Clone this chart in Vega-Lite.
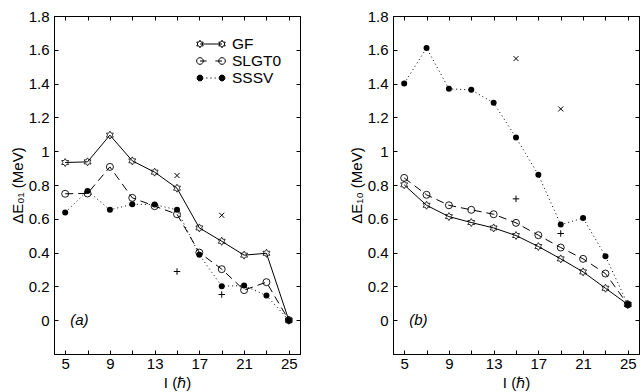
{
  "$schema": "https://vega.github.io/schema/vega-lite/v6.json",
  "padding": {"left": 9, "top": 8, "right": 5, "bottom": 5},
  "spacing": 47,
  "config": {
    "font": "Liberation Sans",
    "view": {"stroke": "black", "strokeWidth": 1},
    "axis": {"grid": false, "domainColor": "black", "tickColor": "black", "labelColor": "black", "titleColor": "black", "labelFontSize": 15, "titleFontSize": 15, "titleFontWeight": "normal", "labelFont": "Liberation Sans", "titleFont": "Liberation Sans", "domainWidth": 1, "tickWidth": 1, "labelFlush": false, "labelOverlap": false},
    "legend": {"title": null, "labelFontSize": 15.5, "labelFont": "Liberation Sans", "labelColor": "black", "symbolSize": 841, "symbolStrokeWidth": 1, "symbolStrokeColor": "black", "labelOffset": 6, "rowPadding": 0, "clipHeight": 17, "padding": 0, "symbolOpacity": 1}
  },
  "datasets": {
    "main": [
      {"p": "a", "s": "GF", "I": 5, "v": 0.933}, {"p": "a", "s": "GF", "I": 7, "v": 0.937}, {"p": "a", "s": "GF", "I": 9, "v": 1.095}, {"p": "a", "s": "GF", "I": 11, "v": 0.943}, {"p": "a", "s": "GF", "I": 13, "v": 0.876}, {"p": "a", "s": "GF", "I": 15, "v": 0.781}, {"p": "a", "s": "GF", "I": 17, "v": 0.546}, {"p": "a", "s": "GF", "I": 19, "v": 0.467}, {"p": "a", "s": "GF", "I": 21, "v": 0.385}, {"p": "a", "s": "GF", "I": 23, "v": 0.396}, {"p": "a", "s": "GF", "I": 25, "v": 0},
      {"p": "a", "s": "SLGT0", "I": 5, "v": 0.748}, {"p": "a", "s": "SLGT0", "I": 7, "v": 0.75}, {"p": "a", "s": "SLGT0", "I": 9, "v": 0.907}, {"p": "a", "s": "SLGT0", "I": 11, "v": 0.724}, {"p": "a", "s": "SLGT0", "I": 13, "v": 0.675}, {"p": "a", "s": "SLGT0", "I": 15, "v": 0.627}, {"p": "a", "s": "SLGT0", "I": 17, "v": 0.4}, {"p": "a", "s": "SLGT0", "I": 19, "v": 0.302}, {"p": "a", "s": "SLGT0", "I": 21, "v": 0.178}, {"p": "a", "s": "SLGT0", "I": 23, "v": 0.225}, {"p": "a", "s": "SLGT0", "I": 25, "v": 0},
      {"p": "a", "s": "SSSV", "I": 5, "v": 0.637}, {"p": "a", "s": "SSSV", "I": 7, "v": 0.765}, {"p": "a", "s": "SSSV", "I": 9, "v": 0.653}, {"p": "a", "s": "SSSV", "I": 11, "v": 0.686}, {"p": "a", "s": "SSSV", "I": 13, "v": 0.684}, {"p": "a", "s": "SSSV", "I": 15, "v": 0.653}, {"p": "a", "s": "SSSV", "I": 17, "v": 0.387}, {"p": "a", "s": "SSSV", "I": 19, "v": 0.201}, {"p": "a", "s": "SSSV", "I": 21, "v": 0.205}, {"p": "a", "s": "SSSV", "I": 23, "v": 0.146}, {"p": "a", "s": "SSSV", "I": 25, "v": 0},
      {"p": "a", "s": "X", "I": 15, "v": 0.856}, {"p": "a", "s": "X", "I": 19, "v": 0.621},
      {"p": "a", "s": "P", "I": 15, "v": 0.288}, {"p": "a", "s": "P", "I": 19, "v": 0.152},
      {"p": "b", "s": "GF", "I": 5, "v": 0.801}, {"p": "b", "s": "GF", "I": 7, "v": 0.68}, {"p": "b", "s": "GF", "I": 9, "v": 0.613}, {"p": "b", "s": "GF", "I": 11, "v": 0.578}, {"p": "b", "s": "GF", "I": 13, "v": 0.546}, {"p": "b", "s": "GF", "I": 15, "v": 0.501}, {"p": "b", "s": "GF", "I": 17, "v": 0.436}, {"p": "b", "s": "GF", "I": 19, "v": 0.363}, {"p": "b", "s": "GF", "I": 21, "v": 0.286}, {"p": "b", "s": "GF", "I": 23, "v": 0.189}, {"p": "b", "s": "GF", "I": 25, "v": 0.093},
      {"p": "b", "s": "SLGT0", "I": 5, "v": 0.842}, {"p": "b", "s": "SLGT0", "I": 7, "v": 0.742}, {"p": "b", "s": "SLGT0", "I": 9, "v": 0.68}, {"p": "b", "s": "SLGT0", "I": 11, "v": 0.653}, {"p": "b", "s": "SLGT0", "I": 13, "v": 0.627}, {"p": "b", "s": "SLGT0", "I": 15, "v": 0.576}, {"p": "b", "s": "SLGT0", "I": 17, "v": 0.503}, {"p": "b", "s": "SLGT0", "I": 19, "v": 0.43}, {"p": "b", "s": "SLGT0", "I": 21, "v": 0.363}, {"p": "b", "s": "SLGT0", "I": 23, "v": 0.276}, {"p": "b", "s": "SLGT0", "I": 25, "v": 0.093},
      {"p": "b", "s": "SSSV", "I": 5, "v": 1.4}, {"p": "b", "s": "SSSV", "I": 7, "v": 1.611}, {"p": "b", "s": "SSSV", "I": 9, "v": 1.369}, {"p": "b", "s": "SSSV", "I": 11, "v": 1.363}, {"p": "b", "s": "SSSV", "I": 13, "v": 1.286}, {"p": "b", "s": "SSSV", "I": 15, "v": 1.081}, {"p": "b", "s": "SSSV", "I": 17, "v": 0.86}, {"p": "b", "s": "SSSV", "I": 19, "v": 0.566}, {"p": "b", "s": "SSSV", "I": 21, "v": 0.604}, {"p": "b", "s": "SSSV", "I": 23, "v": 0.379}, {"p": "b", "s": "SSSV", "I": 25, "v": 0.093},
      {"p": "b", "s": "X", "I": 15, "v": 1.548}, {"p": "b", "s": "X", "I": 19, "v": 1.25},
      {"p": "b", "s": "P", "I": 15, "v": 0.718}, {"p": "b", "s": "P", "I": 19, "v": 0.513}
    ]
  },
  "resolve": {"scale": {"shape": "independent", "fill": "independent"}, "legend": {"shape": "independent", "fill": "independent"}},
  "hconcat": [
    {
      "width": 246, "height": 338,
      "data": {"name": "main"},
      "resolve": {"axis": {"x": "independent", "y": "independent"}},
      "layer": [
        {
          "transform": [{"filter": "datum.p=='a' && datum.s=='GF'"}],
          "mark": {"type": "line", "color": "black", "strokeWidth": 1},
          "encoding": {
            "x": {"field": "I", "type": "quantitative", "scale": {"domain": [4, 26], "nice": false, "zero": false}, "axis": {"orient": "bottom", "values": [5, 7, 9, 11, 13, 15, 17, 19, 21, 23, 25], "labelExpr": "datum.value % 4 == 1 ? datum.label : ''", "title": "I (ℏ)", "tickSize": -4, "labelPadding": 6.5, "titlePadding": 3.5}},
            "y": {"field": "v", "type": "quantitative", "scale": {"domain": [-0.2, 1.8], "nice": false, "zero": false}, "axis": {"orient": "left", "values": [0, 0.2, 0.4, 0.6, 0.8, 1, 1.2, 1.4, 1.6, 1.8], "format": "~g", "title": "ΔE₀₁ (MeV)", "tickSize": -4, "labelPadding": 9, "titlePadding": 3}}
          }
        },
        {
          "transform": [{"filter": "datum.p=='a' && datum.s=='SLGT0'"}],
          "mark": {"type": "line", "color": "black", "strokeWidth": 1, "strokeDash": [8, 5]},
          "encoding": {
            "x": {"field": "I", "type": "quantitative", "scale": {"domain": [4, 26], "nice": false, "zero": false}, "axis": {"orient": "top", "values": [5, 7, 9, 11, 13, 15, 17, 19, 21, 23, 25], "labels": false, "title": null, "tickSize": -4}},
            "y": {"field": "v", "type": "quantitative", "scale": {"domain": [-0.2, 1.8], "nice": false, "zero": false}, "axis": {"orient": "right", "values": [0, 0.2, 0.4, 0.6, 0.8, 1, 1.2, 1.4, 1.6, 1.8], "labels": false, "title": null, "tickSize": -4}}
          }
        },
        {
          "transform": [{"filter": "datum.p=='a' && datum.s=='SSSV'"}],
          "mark": {"type": "line", "color": "black", "strokeWidth": 1, "strokeDash": [1, 3]},
          "encoding": {
            "x": {"field": "I", "type": "quantitative", "scale": {"domain": [4, 26], "nice": false, "zero": false}, "axis": null},
            "y": {"field": "v", "type": "quantitative", "scale": {"domain": [-0.2, 1.8], "nice": false, "zero": false}, "axis": null}
          }
        },
        {
          "transform": [{"filter": "datum.p=='a' && datum.s=='GF'"}],
          "mark": {"type": "point", "shape": "M0,-1L0.289,-0.5L0.866,-0.5L0.577,0L0.866,0.5L0.289,0.5L0,1L-0.289,0.5L-0.866,0.5L-0.577,0L-0.866,-0.5L-0.289,-0.5Z", "size": 64, "filled": false, "stroke": "black", "strokeWidth": 0.8, "opacity": 1},
          "encoding": {
            "x": {"field": "I", "type": "quantitative", "scale": {"domain": [4, 26], "nice": false, "zero": false}, "axis": null},
            "y": {"field": "v", "type": "quantitative", "scale": {"domain": [-0.2, 1.8], "nice": false, "zero": false}, "axis": null}
          }
        },
        {
          "transform": [{"filter": "datum.p=='a' && datum.s=='SLGT0'"}],
          "mark": {"type": "point", "shape": "circle", "size": 49, "filled": false, "stroke": "black", "strokeWidth": 0.9, "opacity": 1},
          "encoding": {
            "x": {"field": "I", "type": "quantitative", "scale": {"domain": [4, 26], "nice": false, "zero": false}, "axis": null},
            "y": {"field": "v", "type": "quantitative", "scale": {"domain": [-0.2, 1.8], "nice": false, "zero": false}, "axis": null}
          }
        },
        {
          "transform": [{"filter": "datum.p=='a' && datum.s=='SSSV'"}],
          "mark": {"type": "point", "shape": "circle", "size": 36, "filled": true, "fill": "black", "opacity": 1},
          "encoding": {
            "x": {"field": "I", "type": "quantitative", "scale": {"domain": [4, 26], "nice": false, "zero": false}, "axis": null},
            "y": {"field": "v", "type": "quantitative", "scale": {"domain": [-0.2, 1.8], "nice": false, "zero": false}, "axis": null}
          }
        },
        {
          "transform": [{"filter": "datum.p=='a' && datum.s=='X'"}],
          "mark": {"type": "point", "shape": "M-1,-1L1,1M-1,1L1,-1", "size": 25, "filled": false, "stroke": "black", "strokeWidth": 1, "opacity": 1},
          "encoding": {
            "x": {"field": "I", "type": "quantitative", "scale": {"domain": [4, 26], "nice": false, "zero": false}, "axis": null},
            "y": {"field": "v", "type": "quantitative", "scale": {"domain": [-0.2, 1.8], "nice": false, "zero": false}, "axis": null}
          }
        },
        {
          "transform": [{"filter": "datum.p=='a' && datum.s=='P'"}],
          "mark": {"type": "point", "shape": "M-1,0L1,0M0,-1L0,1", "size": 42, "filled": false, "stroke": "black", "strokeWidth": 1, "opacity": 1},
          "encoding": {
            "x": {"field": "I", "type": "quantitative", "scale": {"domain": [4, 26], "nice": false, "zero": false}, "axis": null},
            "y": {"field": "v", "type": "quantitative", "scale": {"domain": [-0.2, 1.8], "nice": false, "zero": false}, "axis": null}
          }
        },
        {
          "data": {"values": [{"label": "(a)"}]},
          "mark": {"type": "text", "align": "left", "baseline": "middle", "fontSize": 15, "fontStyle": "italic", "font": "Liberation Sans", "color": "black"},
          "encoding": {
            "x": {"datum": 5.45, "type": "quantitative", "axis": null},
            "y": {"datum": 0, "type": "quantitative", "axis": null},
            "text": {"field": "label"}
          }
        },
        {
          "data": {"values": [{"series": "GF"}, {"series": "SLGT0"}, {"series": "SSSV"}]},
          "transform": [{"filter": "false"}],
          "mark": {"type": "point", "filled": true, "stroke": "black", "strokeWidth": 1, "opacity": 1},
          "encoding": {
            "shape": {"field": "series", "type": "nominal", "scale": {"domain": ["GF", "SLGT0", "SSSV"], "range": [
              "M-0.76,0L0.76,0M-0.76,-0.26L-0.685,-0.13L-0.535,-0.13L-0.61,0L-0.535,0.13L-0.685,0.13L-0.76,0.26L-0.835,0.13L-0.985,0.13L-0.91,0L-0.985,-0.13L-0.835,-0.13ZM0.76,-0.26L0.835,-0.13L0.985,-0.13L0.91,0L0.985,0.13L0.835,0.13L0.76,0.26L0.685,0.13L0.535,0.13L0.61,0L0.535,-0.13L0.685,-0.13Z",
              "M-0.53,0A0.23,0.23,0,1,1,-0.99,0A0.23,0.23,0,1,1,-0.53,0ZM0.99,0A0.23,0.23,0,1,1,0.53,0A0.23,0.23,0,1,1,0.99,0ZM-0.76,0L-0.3,0M0.3,0L0.76,0",
              "M-0.56,0A0.2,0.2,0,1,1,-0.96,0A0.2,0.2,0,1,1,-0.56,0ZM0.96,0A0.2,0.2,0,1,1,0.56,0A0.2,0.2,0,1,1,0.96,0ZM-0.33,0L-0.25,0M-0.04,0L0.04,0M0.25,0L0.33,0"
            ]}, "legend": {"orient": "none", "legendX": 142, "legendY": 19.5, "encode": {"symbols": {"update": {"stroke": {"value": "black"}, "strokeWidth": {"value": 1}, "opacity": {"value": 1}}}}}},
            "fill": {"field": "series", "type": "nominal", "scale": {"domain": ["GF", "SLGT0", "SSSV"], "range": ["transparent", "transparent", "black"]}, "legend": {"orient": "none", "legendX": 142, "legendY": 19.5, "encode": {"symbols": {"update": {"stroke": {"value": "black"}, "strokeWidth": {"value": 1}, "opacity": {"value": 1}}}}}}
          }
        }
      ]
    },
    {
      "width": 246, "height": 338,
      "data": {"name": "main"},
      "resolve": {"axis": {"x": "independent", "y": "independent"}},
      "layer": [
        {
          "transform": [{"filter": "datum.p=='b' && datum.s=='GF'"}],
          "mark": {"type": "line", "color": "black", "strokeWidth": 1},
          "encoding": {
            "x": {"field": "I", "type": "quantitative", "scale": {"domain": [4, 26], "nice": false, "zero": false}, "axis": {"orient": "bottom", "values": [5, 7, 9, 11, 13, 15, 17, 19, 21, 23, 25], "labelExpr": "datum.value % 4 == 1 ? datum.label : ''", "title": "I (ℏ)", "tickSize": -4, "labelPadding": 6.5, "titlePadding": 3.5}},
            "y": {"field": "v", "type": "quantitative", "scale": {"domain": [-0.2, 1.8], "nice": false, "zero": false}, "axis": {"orient": "left", "values": [0, 0.2, 0.4, 0.6, 0.8, 1, 1.2, 1.4, 1.6, 1.8], "format": "~g", "title": "ΔE₁₀ (MeV)", "tickSize": -4, "labelPadding": 9, "titlePadding": 3}}
          }
        },
        {
          "transform": [{"filter": "datum.p=='b' && datum.s=='SLGT0'"}],
          "mark": {"type": "line", "color": "black", "strokeWidth": 1, "strokeDash": [8, 5]},
          "encoding": {
            "x": {"field": "I", "type": "quantitative", "scale": {"domain": [4, 26], "nice": false, "zero": false}, "axis": {"orient": "top", "values": [5, 7, 9, 11, 13, 15, 17, 19, 21, 23, 25], "labels": false, "title": null, "tickSize": -4}},
            "y": {"field": "v", "type": "quantitative", "scale": {"domain": [-0.2, 1.8], "nice": false, "zero": false}, "axis": {"orient": "right", "values": [0, 0.2, 0.4, 0.6, 0.8, 1, 1.2, 1.4, 1.6, 1.8], "labels": false, "title": null, "tickSize": -4}}
          }
        },
        {
          "transform": [{"filter": "datum.p=='b' && datum.s=='SSSV'"}],
          "mark": {"type": "line", "color": "black", "strokeWidth": 1, "strokeDash": [1, 3]},
          "encoding": {
            "x": {"field": "I", "type": "quantitative", "scale": {"domain": [4, 26], "nice": false, "zero": false}, "axis": null},
            "y": {"field": "v", "type": "quantitative", "scale": {"domain": [-0.2, 1.8], "nice": false, "zero": false}, "axis": null}
          }
        },
        {
          "transform": [{"filter": "datum.p=='b' && datum.s=='GF'"}],
          "mark": {"type": "point", "shape": "M0,-1L0.289,-0.5L0.866,-0.5L0.577,0L0.866,0.5L0.289,0.5L0,1L-0.289,0.5L-0.866,0.5L-0.577,0L-0.866,-0.5L-0.289,-0.5Z", "size": 64, "filled": false, "stroke": "black", "strokeWidth": 0.8, "opacity": 1},
          "encoding": {
            "x": {"field": "I", "type": "quantitative", "scale": {"domain": [4, 26], "nice": false, "zero": false}, "axis": null},
            "y": {"field": "v", "type": "quantitative", "scale": {"domain": [-0.2, 1.8], "nice": false, "zero": false}, "axis": null}
          }
        },
        {
          "transform": [{"filter": "datum.p=='b' && datum.s=='SLGT0'"}],
          "mark": {"type": "point", "shape": "circle", "size": 49, "filled": false, "stroke": "black", "strokeWidth": 0.9, "opacity": 1},
          "encoding": {
            "x": {"field": "I", "type": "quantitative", "scale": {"domain": [4, 26], "nice": false, "zero": false}, "axis": null},
            "y": {"field": "v", "type": "quantitative", "scale": {"domain": [-0.2, 1.8], "nice": false, "zero": false}, "axis": null}
          }
        },
        {
          "transform": [{"filter": "datum.p=='b' && datum.s=='SSSV'"}],
          "mark": {"type": "point", "shape": "circle", "size": 36, "filled": true, "fill": "black", "opacity": 1},
          "encoding": {
            "x": {"field": "I", "type": "quantitative", "scale": {"domain": [4, 26], "nice": false, "zero": false}, "axis": null},
            "y": {"field": "v", "type": "quantitative", "scale": {"domain": [-0.2, 1.8], "nice": false, "zero": false}, "axis": null}
          }
        },
        {
          "transform": [{"filter": "datum.p=='b' && datum.s=='X'"}],
          "mark": {"type": "point", "shape": "M-1,-1L1,1M-1,1L1,-1", "size": 25, "filled": false, "stroke": "black", "strokeWidth": 1, "opacity": 1},
          "encoding": {
            "x": {"field": "I", "type": "quantitative", "scale": {"domain": [4, 26], "nice": false, "zero": false}, "axis": null},
            "y": {"field": "v", "type": "quantitative", "scale": {"domain": [-0.2, 1.8], "nice": false, "zero": false}, "axis": null}
          }
        },
        {
          "transform": [{"filter": "datum.p=='b' && datum.s=='P'"}],
          "mark": {"type": "point", "shape": "M-1,0L1,0M0,-1L0,1", "size": 42, "filled": false, "stroke": "black", "strokeWidth": 1, "opacity": 1},
          "encoding": {
            "x": {"field": "I", "type": "quantitative", "scale": {"domain": [4, 26], "nice": false, "zero": false}, "axis": null},
            "y": {"field": "v", "type": "quantitative", "scale": {"domain": [-0.2, 1.8], "nice": false, "zero": false}, "axis": null}
          }
        },
        {
          "data": {"values": [{"label": "(b)"}]},
          "mark": {"type": "text", "align": "left", "baseline": "middle", "fontSize": 15, "fontStyle": "italic", "font": "Liberation Sans", "color": "black"},
          "encoding": {
            "x": {"datum": 5.45, "type": "quantitative", "axis": null},
            "y": {"datum": 0, "type": "quantitative", "axis": null},
            "text": {"field": "label"}
          }
        }
      ]
    }
  ]
}
